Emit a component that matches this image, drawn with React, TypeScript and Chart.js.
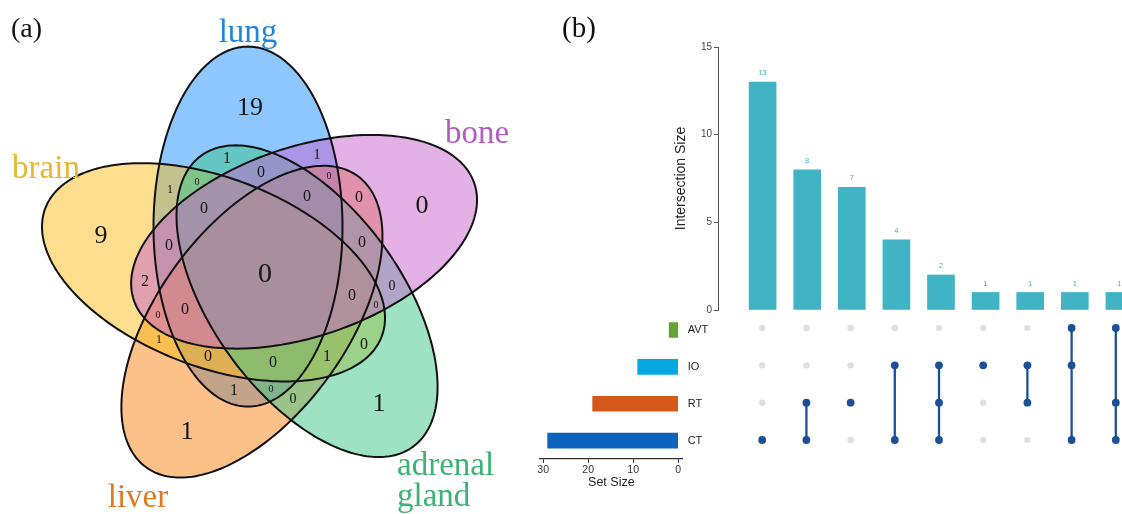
import React, { useEffect, useRef } from 'react';
import { Chart, registerables } from 'chart.js';

Chart.register(...registerables);

const SANS = '"Liberation Sans", Arial, Helvetica, sans-serif';
const SERIF = '"Liberation Serif", "Times New Roman", serif';

// ---------------- Panel (a): five-set Venn diagram ----------------
const vennSets = ['lung', 'bone', 'adrenal gland', 'liver', 'brain'];
const vennRegionCounts = [19, 9, 0, 1, 1, 0, 1, 1, 0, 0, 0, 1, 0, 0, 0, 0, 0, 2, 0, 0, 0, 0, 0, 1, 0, 0, 0, 1, 1, 0, 0];

// layout only: [x, y, fontSize] of each region label (same order as vennRegionCounts)
const vennRegionLayout: [number, number, number][] = [
  [250, 108, 26], [101, 236, 26], [422, 206, 26], [187, 432, 26], [379, 404, 26], [265, 275, 28],
  [227, 159, 16], [317, 155, 15], [261, 173, 16], [329, 176, 10], [197, 182, 10], [170, 190, 12],
  [307, 197, 16], [359, 198, 16], [204, 209, 16], [169, 246, 16], [362, 243, 16], [145, 282, 16],
  [392, 286, 14], [352, 296, 16], [376, 305, 10], [158, 315, 10], [185, 310, 16], [159, 340, 12],
  [364, 345, 16], [208, 357, 16], [273, 363, 16], [327, 357, 16], [234, 391, 16], [271, 389, 10],
  [293, 399, 14],
];
// style / geometry
const vennFill = ['rgba(30,144,255,0.5)', 'rgba(200,100,205,0.5)', 'rgba(60,200,135,0.5)', 'rgba(250,130,20,0.5)', 'rgba(250,190,30,0.5)'];
const vennText = ['#1f86e0', '#b35cbf', '#3cb374', '#e07a22', '#e8b72e'];
const vennFillOrder = [0, 3, 4, 2, 1];
const vennSetLabelLayout: [number, number, CanvasTextAlign][] = [
  [248, 42, 'center'], [477, 143, 'center'], [397, 475, 'left'], [138, 507, 'center'], [46, 178, 'center'],
];
const VENN_GEOM = { cx: 265.4, cy: 273.5, a: 180, b: 94.5, shift: 46.9, offset: -17.4, step: 72 };
const vennAngleAdjust = [0, -1, 0, 0, 2.9];
const vennShiftAdjust = [0, 0, 0, 0, 2];

// ---------------- Panel (b): UpSet plot ----------------
const setNames = ['AVT', 'IO', 'RT', 'CT'];
const setSizes = [2, 9, 19, 29];
const setColors = ['#62a333', '#05a8e0', '#d4581a', '#0b63bd'];
const setSizeTicks = [0, 10, 20, 30];
const intersectionSizes = [13, 8, 7, 4, 2, 1, 1, 1, 1];
const intersectionSets = [
  ['CT'], ['RT', 'CT'], ['RT'], ['IO', 'CT'], ['IO', 'RT', 'CT'], ['IO'], ['IO', 'RT'], ['AVT', 'IO', 'CT'], ['AVT', 'RT', 'CT'],
];
const intersectionTicks = [0, 5, 10, 15];

const TEAL = '#40b3c4';
const DOT = '#1d4f98';
const GREY_DOT = '#e0e0e0';

function ellipsePath(i: number, xs: any, ys: any): Path2D {
  const th = ((i * VENN_GEOM.step + vennAngleAdjust[i]) * Math.PI) / 180;
  const d = [Math.sin(th), -Math.cos(th)];
  const p = [Math.cos(th), Math.sin(th)];
  const sh = VENN_GEOM.shift + vennShiftAdjust[i];
  const cx = VENN_GEOM.cx + sh * d[0] + VENN_GEOM.offset * p[0];
  const cy = VENN_GEOM.cy + sh * d[1] + VENN_GEOM.offset * p[1];
  const path = new Path2D();
  const N = 240;
  for (let k = 0; k <= N; k++) {
    const t = (2 * Math.PI * k) / N;
    const x = cx + VENN_GEOM.a * Math.cos(t) * d[0] + VENN_GEOM.b * Math.sin(t) * p[0];
    const y = cy + VENN_GEOM.a * Math.cos(t) * d[1] + VENN_GEOM.b * Math.sin(t) * p[1];
    const px = xs.getPixelForValue(x);
    const py = ys.getPixelForValue(y);
    if (k === 0) path.moveTo(px, py);
    else path.lineTo(px, py);
  }
  path.closePath();
  return path;
}

const vennPlugin = {
  id: 'vennPlugin',
  beforeDatasetsDraw(chart: any) {
    const { ctx } = chart;
    const xs = chart.scales.x;
    const ys = chart.scales.y;
    const paths = vennSets.map((_, i) => ellipsePath(i, xs, ys));
    ctx.save();
    for (const i of vennFillOrder) {
      ctx.fillStyle = vennFill[i];
      ctx.fill(paths[i]);
    }
    ctx.lineWidth = 2;
    ctx.strokeStyle = '#111';
    for (const p of paths) ctx.stroke(p);
    ctx.restore();
  },
  afterDatasetsDraw(chart: any) {
    const { ctx } = chart;
    const xs = chart.scales.x;
    const ys = chart.scales.y;
    const meta = chart.getDatasetMeta(0);
    ctx.save();
    ctx.fillStyle = '#161616';
    ctx.textAlign = 'center';
    ctx.textBaseline = 'middle';
    meta.data.forEach((pt: any, i: number) => {
      ctx.font = `${vennRegionLayout[i][2]}px ${SERIF}`;
      ctx.fillText(String(vennRegionCounts[i]), pt.x, pt.y);
    });
    ctx.textBaseline = 'alphabetic';
    ctx.font = `33px ${SERIF}`;
    vennSets.forEach((name, i) => {
      const [x, y, align] = vennSetLabelLayout[i];
      ctx.fillStyle = vennText[i];
      ctx.textAlign = align;
      name.split(' ').forEach((line, j) => {
        ctx.fillText(line, xs.getPixelForValue(x), ys.getPixelForValue(y + j * 31));
      });
    });
    ctx.fillStyle = '#111';
    ctx.textAlign = 'left';
    ctx.font = `28px ${SERIF}`;
    ctx.fillText('(a)', xs.getPixelForValue(11), ys.getPixelForValue(37));
    ctx.font = `29px ${SERIF}`;
    ctx.fillText('(b)', xs.getPixelForValue(562), ys.getPixelForValue(37));
    ctx.restore();
  },
};

const barValuePlugin = {
  id: 'barValues',
  afterDatasetsDraw(chart: any) {
    const { ctx } = chart;
    const meta = chart.getDatasetMeta(0);
    ctx.save();
    ctx.fillStyle = TEAL;
    ctx.font = `7.5px ${SANS}`;
    ctx.textAlign = 'center';
    ctx.textBaseline = 'middle';
    meta.data.forEach((el: any, i: number) => {
      ctx.fillText(String(intersectionSizes[i]), el.x, el.y - 9);
    });
    ctx.restore();
  },
};

export default function App() {
  const figRef = useRef<HTMLCanvasElement>(null);
  const setRef = useRef<HTMLCanvasElement>(null);
  const barRef = useRef<HTMLCanvasElement>(null);
  const matRef = useRef<HTMLCanvasElement>(null);

  useEffect(() => {
    const charts: Chart[] = [];

    // Venn
    charts.push(
      new Chart(figRef.current as HTMLCanvasElement, {
        type: 'scatter',
        data: {
          datasets: [
            {
              data: vennRegionLayout.map(([x, y]) => ({ x, y })),
              pointRadius: 0,
              pointHoverRadius: 0,
            },
          ],
        },
        options: {
          animation: false,
          responsive: false,
          devicePixelRatio: 1,
          events: [],
          layout: { padding: 0 },
          scales: {
            x: { type: 'linear', min: 0, max: 1122, display: false },
            y: { type: 'linear', min: 0, max: 514, reverse: true, display: false },
          },
          plugins: { legend: { display: false }, tooltip: { enabled: false } },
        },
        plugins: [vennPlugin],
      } as any)
    );

    // Intersection size bars
    charts.push(
      new Chart(barRef.current as HTMLCanvasElement, {
        type: 'bar',
        data: {
          datasets: [
            {
              data: intersectionSizes.map((v, i) => ({ x: i + 1, y: v })),
              backgroundColor: TEAL,
              barThickness: 27,
              borderWidth: 0,
            },
          ],
        },
        options: {
          animation: false,
          responsive: false,
          devicePixelRatio: 1,
          events: [],
          layout: { padding: { left: 32, top: 17, bottom: 10, right: 0 } },
          scales: {
            x: { type: 'linear', min: 0, max: 10, offset: false, display: false },
            y: {
              type: 'linear',
              min: 0,
              max: 15,
              afterBuildTicks: (s: any) => {
                s.ticks = intersectionTicks.map((v) => ({ value: v }));
              },
              ticks: { color: '#444', font: { size: 10, family: SANS }, padding: 2 },
              grid: { display: true, drawOnChartArea: false, drawTicks: true, tickLength: 4, color: '#555' },
              border: { display: true, color: '#555', width: 1 },
              title: { display: true, text: 'Intersection Size', color: '#222', font: { size: 14, family: SANS }, padding: { top: 1, bottom: 0 } },
              afterFit: (s: any) => {
                s.width = 46;
              },
            },
          },
          plugins: { legend: { display: false }, tooltip: { enabled: false } },
        },
        plugins: [barValuePlugin],
      } as any)
    );

    // Matrix
    const rowVal = (name: string) => setNames.length - 1 - setNames.indexOf(name);
    const active: { x: number; y: number }[] = [];
    const inactive: { x: number; y: number }[] = [];
    const lineSets: any[] = [];
    intersectionSets.forEach((members, c) => {
      const vals = members.map(rowVal);
      const lo = Math.min(...vals);
      const hi = Math.max(...vals);
      setNames.forEach((n) => {
        const v = rowVal(n);
        if (members.includes(n)) active.push({ x: c + 1, y: v });
        else if (v < lo || v > hi) inactive.push({ x: c + 1, y: v });
      });
      if (vals.length > 1) {
        lineSets.push({
          data: [
            { x: c + 1, y: lo },
            { x: c + 1, y: hi },
          ],
          showLine: true,
          borderColor: DOT,
          borderWidth: 2.3,
          pointRadius: 0,
          order: 1,
        });
      }
    });
    charts.push(
      new Chart(matRef.current as HTMLCanvasElement, {
        type: 'scatter',
        data: {
          datasets: [
            { data: active, pointRadius: 3.9, backgroundColor: DOT, borderWidth: 0, order: 0 },
            ...lineSets,
            { data: inactive, pointRadius: 3.2, backgroundColor: GREY_DOT, borderWidth: 0, order: 2 },
          ],
        },
        options: {
          animation: false,
          responsive: false,
          devicePixelRatio: 1,
          events: [],
          layout: { padding: { left: 78, right: 0, top: 9.33, bottom: 11.33 } },
          scales: {
            x: { type: 'linear', min: 0, max: 10, display: false },
            y: { type: 'linear', min: -0.5, max: 3.5, display: false },
          },
          plugins: { legend: { display: false }, tooltip: { enabled: false } },
        },
      } as any)
    );

    // Set sizes
    charts.push(
      new Chart(setRef.current as HTMLCanvasElement, {
        type: 'bar',
        data: {
          labels: setNames,
          datasets: [{ data: setSizes, backgroundColor: setColors, barThickness: 15, borderWidth: 0 }],
        },
        options: {
          indexAxis: 'y',
          animation: false,
          responsive: false,
          devicePixelRatio: 1,
          events: [],
          layout: { padding: { left: 40, right: 0, top: 9.33, bottom: 0 } },
          scales: {
            x: {
              type: 'linear',
              reverse: true,
              min: -1,
              max: 30.7,
              afterBuildTicks: (s: any) => {
                s.ticks = setSizeTicks.map((v) => ({ value: v }));
              },
              ticks: { color: '#333', font: { size: 10.5, family: SANS }, padding: 1, maxRotation: 0 },
              grid: { display: true, drawOnChartArea: false, drawTicks: true, tickLength: 4, color: '#333' },
              border: { display: true, color: '#333', width: 1.3 },
              title: { display: true, text: 'Set Size', color: '#222', font: { size: 12.5, family: SANS }, padding: { top: 0, bottom: 4 } },
              afterFit: (s: any) => {
                s.height = 35;
              },
            },
            y: {
              type: 'category',
              position: 'right',
              grid: { display: false, drawTicks: false },
              border: { display: false },
              ticks: { color: '#222', font: { size: 11, family: SANS }, padding: 5 },
              afterFit: (s: any) => {
                s.width = 47.33;
              },
            },
          },
          plugins: { legend: { display: false }, tooltip: { enabled: false } },
        },
      } as any)
    );

    return () => charts.forEach((c) => c.destroy());
  }, []);

  return (
    <div style={{ position: 'fixed', left: 0, top: 0, width: 1122, height: 514, overflow: 'hidden', background: '#fff' }}>
      <canvas ref={figRef} width={1122} height={514} style={{ position: 'absolute', left: 0, top: 0, width: 1122, height: 514 }} />
      <canvas ref={setRef} width={230} height={194} style={{ position: 'absolute', left: 500, top: 300, width: 230, height: 194 }} />
      <canvas ref={barRef} width={524} height={290} style={{ position: 'absolute', left: 640, top: 30, width: 524, height: 290 }} />
      <canvas ref={matRef} width={524} height={170} style={{ position: 'absolute', left: 640, top: 300, width: 524, height: 170 }} />
    </div>
  );
}
